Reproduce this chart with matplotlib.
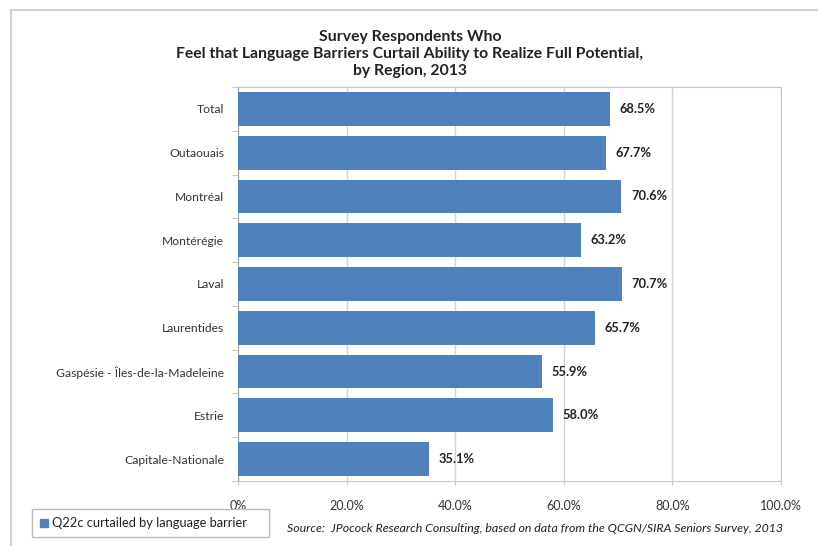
import numpy as np
import matplotlib.pyplot as plt
from matplotlib.patches import Rectangle

plt.rcParams["font.family"] = ["Lato", "DejaVu Sans"]

regions = ["Total", "Outaouais", "Montréal", "Montérégie", "Laval", "Laurentides",
           "Gaspésie - Îles-de-la-Madeleine", "Estrie", "Capitale-Nationale"]
values = [68.5, 67.7, 70.6, 63.2, 70.7, 65.7, 55.9, 58.0, 35.1]
xticks = [0, 20, 40, 60, 80, 100]
xtick_labels = ["0%", "20.0%", "40.0%", "60.0%", "80.0%", "100.0%"]
series_name = "Q22c curtailed by language barrier"
title = ("Survey Respondents Who\n"
         "Feel that Language Barriers Curtail Ability to Realize Full Potential,\n"
         "by Region, 2013")
source = "Source:  JPocock Research Consulting, based on data from the QCGN/SIRA Seniors Survey, 2013"

bar_color = "#4F81BD"
grid_color = "#D4D4D4"

W, H = 818, 546
fig = plt.figure(figsize=(W / 100, H / 100), dpi=100)
fig.patch.set_facecolor("white")

# outer chart-area border (runs off the right and bottom edges)
fig.patches.append(Rectangle((11 / W, -10 / H), 820 / W, 546 / H,
                             transform=fig.transFigure, fill=False,
                             edgecolor="#D0D0D0", lw=1.5))

ax = fig.add_axes([238 / W, 1 - 481 / H, 543 / W, 394 / H])
y = np.arange(len(regions))
ax.barh(y, values, height=0.77, color=bar_color, zorder=3)

for yi, v in zip(y, values):
    ax.text(v + 1.8, yi, f"{v:.1f}%", va="center", ha="left",
            fontsize=9.3, fontweight="bold", color="#222222")

ax.set_xlim(0, 100)
ax.set_ylim(len(regions) - 0.5, -0.5)
ax.set_xticks(xticks)
ax.set_xticklabels(xtick_labels, fontsize=9, color="#333333")
ax.set_yticks(y)
ax.set_yticklabels(regions, fontsize=8.7, color="#333333")
ax.tick_params(axis="x", length=3, color="#C8C8C8", pad=11)
ax.tick_params(axis="y", length=0, pad=10)
ax.set_yticks(np.arange(len(regions) + 1) - 0.5, minor=True)
ax.tick_params(axis="y", which="minor", length=4, color="#BBBBBB", direction="out")
ax.grid(axis="x", color=grid_color, lw=1, zorder=0)
for s in ax.spines.values():
    s.set_color("#C8C8C8")
ax.spines["left"].set_color("#A0A0A0")

fig.text(410 / W, 1 - 54 / H, title, ha="center", va="center",
         fontsize=11.3, fontweight="bold", linespacing=1.3, color="#222222")

# legend box
fig.patches.append(Rectangle((32 / W, 1 - 537 / H), 237 / W, 28 / H,
                             transform=fig.transFigure, fill=False,
                             edgecolor="#BBBBBB", lw=1))
fig.patches.append(Rectangle((40 / W, 1 - 527 / H), 8 / W, 8 / H,
                             transform=fig.transFigure, color=bar_color))
fig.text(52 / W, 1 - 523 / H, series_name, ha="left", va="center",
         fontsize=9.3, color="#222222")

fig.text(287 / W, 1 - 529 / H, source, ha="left", va="center",
         fontsize=8.95, style="italic", color="#222222")

plt.savefig("out.png", dpi=100)
